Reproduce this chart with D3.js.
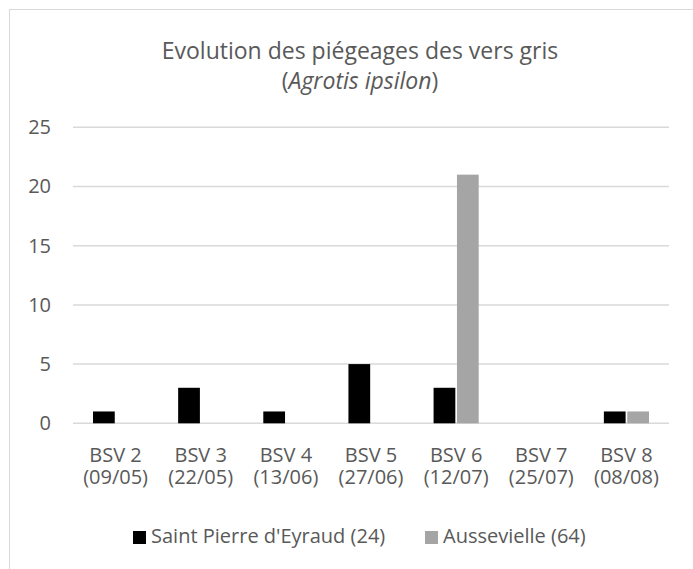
<!DOCTYPE html>
<html>
<head>
<meta charset="utf-8">
<script src="https://cdn.jsdelivr.net/npm/d3@7"></script>
<style>
  html, body { margin: 0; padding: 0; background: #fff; }
  svg { display: block; }
  text { font-family: "Open Sans", sans-serif; fill: #595959; }
</style>
</head>
<body>
<script>
const categories = ["BSV 2|(09/05)", "BSV 3|(22/05)", "BSV 4|(13/06)", "BSV 5|(27/06)", "BSV 6|(12/07)", "BSV 7|(25/07)", "BSV 8|(08/08)"];
const seriesNames = ["Saint Pierre d'Eyraud (24)", "Aussevielle (64)"];
const saintPierre = [1, 3, 1, 5, 3, 0, 1];
const aussevielle = [0, 0, 0, 0, 21, 0, 1];
const seriesColors = ["#000000", "#a5a5a5"];
const yTicks = [0, 5, 10, 15, 20, 25];
const titleLine1 = "Evolution des piégeages des vers gris";
const titleLine2 = "Agrotis ipsilon";

const W = 693, H = 569;
const svg = d3.select("body").append("svg").attr("width", W).attr("height", H);

// chart border
svg.append("rect").attr("x", 9.5).attr("y", 9.5).attr("width", 900).attr("height", 900)
  .attr("fill", "none").attr("stroke", "#d9d9d9").attr("stroke-width", 1);

const plot = { left: 73, right: 669, top: 127.3, bottom: 423.3 };
const x = d3.scaleBand().domain(categories).range([plot.left, plot.right]).paddingInner(0).paddingOuter(0);
const bw = x.bandwidth();
const xs = d3.scaleBand().domain(seriesNames).range([bw * 0.235, bw * 0.765]).paddingInner(0.07);
const y = d3.scaleLinear().domain([0, 25]).range([plot.bottom, plot.top]);

// gridlines
svg.append("g").selectAll("line").data(yTicks).join("line")
  .attr("x1", plot.left).attr("x2", plot.right)
  .attr("y1", d => y(d)).attr("y2", d => y(d))
  .attr("stroke", "#d9d9d9").attr("stroke-width", 1.5);

// y axis labels
const yAxis = d3.axisLeft(y).tickValues(yTicks).tickSize(0).tickPadding(0);
const gy = svg.append("g").attr("transform", `translate(51,0)`).call(yAxis);
gy.select(".domain").remove();
gy.selectAll("text").style("font-size", "20px").style("font-family", "'Open Sans', sans-serif").attr("fill", "#595959");

// bars
const data = seriesNames.map((s, i) => ({ name: s, color: seriesColors[i], values: i === 0 ? saintPierre : aussevielle }));
const groups = svg.append("g").selectAll("g").data(data).join("g").attr("fill", d => d.color);
groups.selectAll("rect").data(d => d.values.map((v, j) => ({ v, cat: categories[j], s: d.name }))).join("rect")
  .attr("x", d => x(d.cat) + xs(d.s))
  .attr("width", xs.bandwidth())
  .attr("y", d => y(d.v))
  .attr("height", d => y(0) - y(d.v));

// x labels (two separate lines)
const xg = svg.append("g").style("font-size", "20px");
xg.selectAll("text.l1").data(categories).join("text").attr("class", "l1")
  .attr("text-anchor", "middle").attr("x", d => x(d) + bw / 2).attr("y", 462)
  .text(d => d.split("|")[0]);
xg.selectAll("text.l2").data(categories).join("text").attr("class", "l2")
  .attr("text-anchor", "middle").attr("x", d => x(d) + bw / 2).attr("y", 484)
  .text(d => d.split("|")[1]);

// title
const cx = 360;
svg.append("text").attr("x", cx).attr("y", 59).attr("text-anchor", "middle")
  .style("font-size", "23px").text(titleLine1);
const t2 = svg.append("text").attr("x", cx).attr("y", 89).attr("text-anchor", "middle").style("font-size", "23px");
t2.append("tspan").text("(");
t2.append("tspan").style("font-style", "italic").text(titleLine2);
t2.append("tspan").text(")");

// legend
const legend = svg.append("g");
const legItems = [{ x: 133 }, { x: 425 }];
data.forEach((d, i) => {
  const lx = legItems[i].x;
  legend.append("rect").attr("x", lx).attr("y", 531).attr("width", 13).attr("height", 13).attr("fill", d.color);
  legend.append("text").attr("x", lx + 18).attr("y", 543).style("font-size", "20px").text(d.name);
});
</script>
</body>
</html>
